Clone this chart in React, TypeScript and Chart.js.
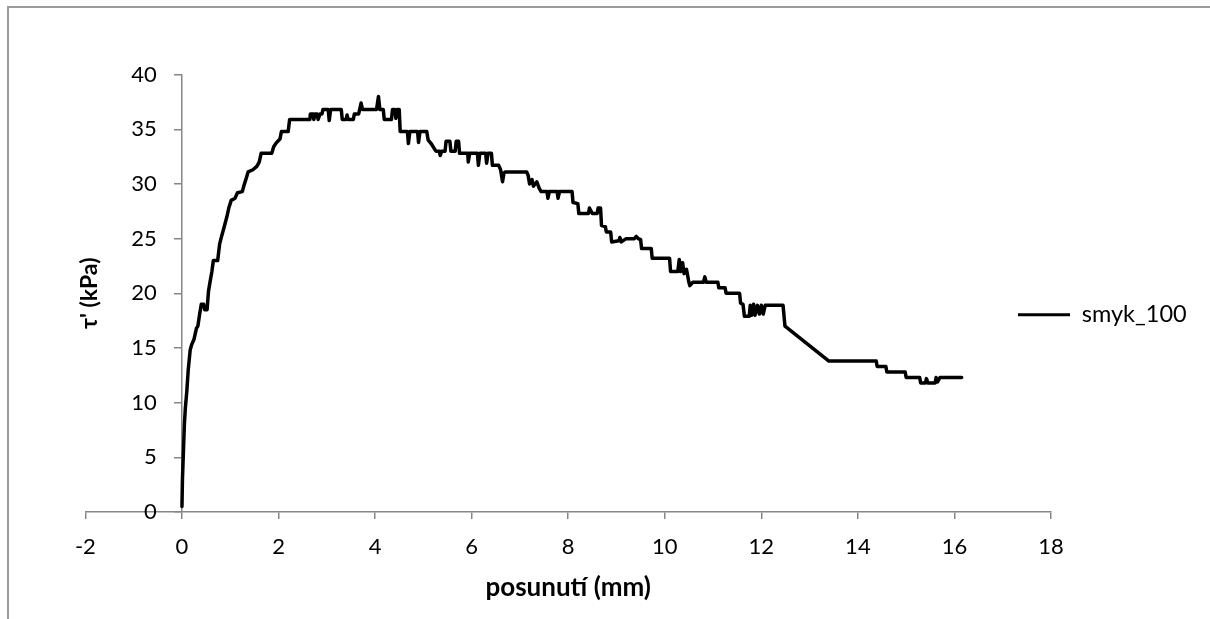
import React, { useEffect, useRef } from 'react';
import { Chart, registerables } from 'chart.js';

Chart.register(...registerables);

const seriesLabel = 'smyk_100';
const xAxisTitle = 'posunutí (mm)';
const yAxisTitle = "τ' (kPa)";

const xMin = -2;
const xMax = 18;
const xStep = 2;
const yMin = 0;
const yMax = 40;
const yStep = 5;

const displacement = [
  0, 0.01, 0.03, 0.05, 0.07, 0.1, 0.13, 0.17, 0.2, 0.25, 0.3, 0.33, 0.37, 0.4, 0.45, 0.47, 0.52, 0.55, 0.58, 0.62,
  0.65, 0.74, 0.78, 0.82, 0.87, 0.93, 0.97, 1.02, 1.1, 1.15, 1.25, 1.28, 1.33, 1.37, 1.47, 1.55, 1.6, 1.64, 1.86, 1.9,
  1.96, 2.03, 2.06, 2.2, 2.23, 2.65, 2.66, 2.72, 2.73, 2.76, 2.8, 2.82, 2.86, 2.9, 2.92, 3.03, 3.05, 3.08, 3.3, 3.32,
  3.4, 3.42, 3.44, 3.55, 3.57, 3.66, 3.68, 3.71, 3.74, 4.03, 4.07, 4.1, 4.17, 4.19, 4.34, 4.36, 4.41, 4.43, 4.46, 4.5,
  4.52, 4.67, 4.69, 4.72, 4.88, 4.9, 4.93, 5.07, 5.1, 5.16, 5.26, 5.33, 5.35, 5.38, 5.45, 5.47, 5.55, 5.57, 5.66, 5.68,
  5.73, 5.75, 5.92, 5.93, 5.96, 6.12, 6.14, 6.17, 6.29, 6.31, 6.34, 6.41, 6.43, 6.56, 6.6, 6.64, 6.67, 6.7, 7.14, 7.17,
  7.2, 7.25, 7.28, 7.35, 7.4, 7.44, 7.56, 7.58, 7.61, 7.77, 7.79, 7.82, 8.08, 8.1, 8.2, 8.22, 8.42, 8.44, 8.5, 8.6,
  8.62, 8.67, 8.69, 8.77, 8.79, 8.88, 8.9, 9.05, 9.07, 9.1, 9.2, 9.37, 9.41, 9.45, 9.5, 9.52, 9.72, 9.74, 10.1, 10.12,
  10.27, 10.3, 10.33, 10.37, 10.4, 10.45, 10.5, 10.52, 10.58, 10.8, 10.83, 10.86, 11.1, 11.12, 11.25, 11.27, 11.55, 11.57, 11.62, 11.65,
  11.75, 11.77, 11.8, 11.84, 11.87, 11.92, 11.96, 12.0, 12.04, 12.08, 12.45, 12.49, 13.4, 14.38, 14.4, 14.58, 14.6, 14.98, 15.0, 15.28,
  15.3, 15.4, 15.42, 15.45, 15.6, 15.62, 15.65, 15.7, 16.15,
];

const shearStress = [
  0.5, 3, 5.5, 8, 9.5, 11, 13, 14.8, 15.3, 15.8, 16.8, 17, 18.2, 19, 19, 18.5, 18.5, 20.2, 21, 22,
  23, 23, 24.5, 25.2, 26, 27, 27.8, 28.5, 28.7, 29.2, 29.3, 29.8, 30.5, 31.1, 31.3, 31.6, 32.0, 32.8, 32.8, 33.4,
  33.8, 34.1, 34.8, 34.8, 35.9, 35.9, 36.4, 36.4, 35.9, 36.4, 36.4, 35.9, 36.4, 36.4, 36.8, 36.8, 35.8, 36.8, 36.8, 35.9,
  35.9, 36.3, 35.9, 35.9, 36.4, 36.4, 36.8, 37.4, 36.8, 36.8, 38.0, 36.8, 36.8, 35.9, 35.9, 36.8, 36.8, 36.0, 36.8, 36.8,
  34.8, 34.8, 33.7, 34.8, 34.8, 33.8, 34.8, 34.8, 34.0, 33.7, 33.0, 33.0, 32.6, 33.0, 33.0, 33.9, 33.9, 33.0, 33.0, 33.9,
  33.9, 32.8, 32.8, 32.0, 32.8, 32.8, 31.7, 32.8, 32.8, 31.9, 32.8, 32.8, 31.7, 31.7, 31.3, 30.2, 31.0, 31.1, 31.1, 30.8,
  30.0, 30.4, 29.8, 30.2, 29.6, 29.3, 29.3, 28.7, 29.3, 29.3, 28.7, 29.3, 29.3, 28.3, 28.2, 27.3, 27.3, 27.8, 27.3, 27.3,
  27.8, 27.8, 26.2, 26.1, 25.6, 25.6, 24.7, 24.8, 25.1, 24.7, 25.0, 25.0, 25.2, 25.0, 24.9, 24.1, 24.1, 23.2, 23.2, 22.0,
  22.0, 23.1, 22.0, 22.8, 21.8, 22.2, 21.0, 20.7, 21.0, 21.0, 21.5, 21.0, 21.0, 20.5, 20.5, 20.0, 20.0, 19.1, 19.0, 17.9,
  17.9, 18.9, 18.0, 19.0, 18.0, 18.9, 18.1, 18.9, 18.1, 18.9, 18.9, 17.0, 13.8, 13.8, 13.3, 13.3, 12.8, 12.8, 12.3, 12.3,
  11.8, 11.8, 12.2, 11.8, 11.8, 12.3, 11.9, 12.3, 12.3,
];

const FONT = 'Lato';
const AXIS_GREY = '#868686';
const Y_LABEL_GAP = 25.3;

const yTitlePlugin = {
  id: 'yTitle',
  afterDraw(chart: any) {
    const { ctx, chartArea } = chart;
    ctx.save();
    ctx.translate(chartArea.left + 4, (chartArea.top + chartArea.bottom) / 2);
    ctx.rotate(-Math.PI / 2);
    ctx.font = `bold 23px ${FONT}`;
    ctx.fillStyle = '#000';
    ctx.textAlign = 'center';
    ctx.textBaseline = 'middle';
    ctx.fillText(yAxisTitle, 0, 0);
    ctx.restore();
  },
};

const yLabelShift = {
  id: 'yLabelShift',
  beforeDraw(chart: any) {
    const sc = chart.scales.y;
    if (!sc || !sc.getLabelItems) return;
    const items = sc.getLabelItems();
    if (items && !items.__shifted) {
      items.forEach((it: any) => {
        if (it.options && it.options.translation) it.options.translation[0] -= Y_LABEL_GAP;
      });
      items.__shifted = true;
    }
  },
};

const legendPlacer = {
  id: 'legendPlacer',
  afterLayout(chart: any) {
    const lg = chart.legend;
    if (!lg) return;
    const w = 200;
    lg.left = 1008;
    lg.right = 1008 + w;
    lg.width = w;
    lg.top = 293;
    lg.bottom = 393;
    lg.height = 100;
  },
};

export default function App() {
  const ref = useRef<HTMLCanvasElement | null>(null);

  useEffect(() => {
    if (!ref.current) return;
    const points = displacement.map((x, i) => ({ x, y: shearStress[i] }));
    const tickFont = { family: FONT, size: 22 };
    const chart = new Chart(ref.current, {
      type: 'line',
      data: {
        datasets: [
          {
            label: seriesLabel,
            data: points,
            borderColor: '#000',
            backgroundColor: '#000',
            borderWidth: 3.5,
            pointRadius: 0,
            tension: 0,
            fill: false,
            borderJoinStyle: 'round',
            borderCapStyle: 'round',
          } as any,
        ],
      },
      options: {
        responsive: false,
        animation: false,
        layout: { padding: { left: 85.4, right: 158, top: 74.6, bottom: 15.4 } },
        scales: {
          x: {
            type: 'linear',
            min: xMin,
            max: xMax,
            ticks: { stepSize: xStep, color: '#000', font: tickFont, padding: 14.5 },
            grid: { drawOnChartArea: false, drawTicks: true, tickLength: 7, color: AXIS_GREY, lineWidth: 1.5 },
            border: { display: true, color: AXIS_GREY, width: 1.5 },
            title: {
              display: true,
              text: xAxisTitle,
              color: '#000',
              font: { family: FONT, size: 26, weight: 'bold' },
              padding: { top: -2, bottom: 0 },
            },
          },
          y: {
            type: 'linear',
            position: { x: 0 } as any,
            min: yMin,
            max: yMax,
            ticks: { stepSize: yStep, color: '#000', font: tickFont, padding: 18 },
            grid: { drawOnChartArea: false, drawTicks: true, tickLength: 7, color: AXIS_GREY, lineWidth: 1.5 },
            border: { display: true, color: AXIS_GREY, width: 1.5 },
            afterFit: (s: any) => {
              s.width = 0;
            },
          },
        },
        plugins: {
          legend: {
            display: true,
            position: 'right',
            align: 'start',
            maxWidth: 1,
            labels: {
              boxWidth: 52,
              boxHeight: 3,
              padding: 10,
              color: '#000',
              font: { family: FONT, size: 23.5 },
              generateLabels: (c: any) =>
                c.data.datasets.map((d: any, i: number) => ({
                  text: d.label,
                  fillStyle: '#000',
                  strokeStyle: '#000',
                  lineWidth: 0,
                  hidden: false,
                  datasetIndex: i,
                  fontColor: '#000',
                })),
            },
          },
          tooltip: { enabled: false },
        },
      } as any,
      plugins: [yLabelShift, yTitlePlugin, legendPlacer],
    });
    return () => chart.destroy();
  }, []);

  return (
    <div style={{ position: 'fixed', left: 0, top: 0, width: 1210, height: 619, overflow: 'hidden', background: '#fff' }}>
      <div
        style={{
          position: 'absolute',
          left: 7,
          top: 6,
          width: 1400,
          height: 800,
          borderTop: '2px solid #9a9a9a',
          borderLeft: '2px solid #9a9a9a',
        }}
      />
      <canvas ref={ref} width={1210} height={619} style={{ position: 'absolute', left: 0, top: 0 }} />
    </div>
  );
}
